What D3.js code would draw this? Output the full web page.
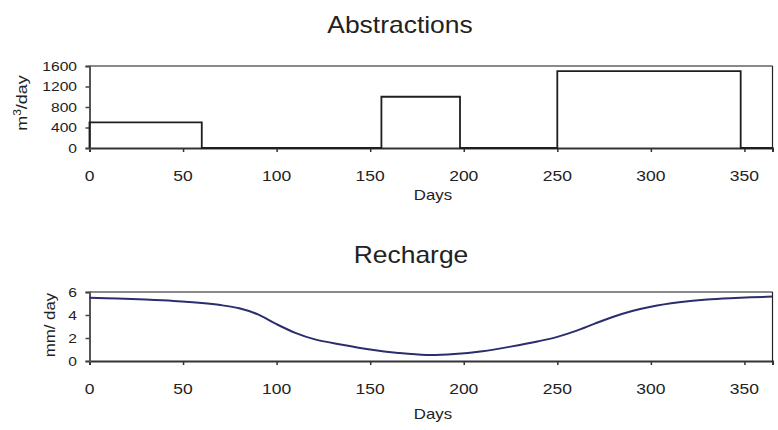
<!DOCTYPE html>
<html>
<head>
<meta charset="utf-8">
<script src="https://cdn.jsdelivr.net/npm/d3@7"></script>
<style>
  html, body { margin: 0; padding: 0; background: #fff; }
  svg text { font-family: "Liberation Sans", Arial, Helvetica, sans-serif; fill: #222; }
</style>
</head>
<body>
<svg id="chart" width="778" height="430"></svg>
<script>
// Pumping periods: start day, end day, abstraction rate (m3/day)
const pumpStart = [0, 156, 250];
const pumpEnd = [60, 198, 348];
const pumpRate = [500, 1000, 1500];

// Recharge through the year (mm/day)
const rechargeDays = [0, 15, 30, 45, 60, 70, 80, 90, 100, 110, 120, 135, 150, 165, 180, 195, 210, 225, 240, 250, 260, 270, 280, 290, 300, 315, 330, 345, 365];
const rechargeValues = [5.5, 5.43, 5.34, 5.22, 5.04, 4.86, 4.58, 4.05, 3.2, 2.45, 1.9, 1.42, 1.0, 0.7, 0.52, 0.6, 0.85, 1.25, 1.72, 2.1, 2.62, 3.25, 3.85, 4.35, 4.72, 5.1, 5.35, 5.48, 5.6];

// Axis ticks
const dayTicks = [0, 50, 100, 150, 200, 250, 300, 350];
const abstractionTicks = [0, 400, 800, 1200, 1600];
const rechargeTicks = [0, 2, 4, 6];

const svg = d3.select("#chart");
const left = 89.5, right = 772.5;

const x = d3.scaleLinear().domain([0, 365]).range([left, right]);

// Text helper: glyphs are drawn slightly wide
function label(g, txt, px, py, size, anchor, sx = 1.22, rot = 0) {
  return g.append("text")
    .attr("transform", `translate(${px},${py}) rotate(${rot}) scale(${sx},1)`)
    .attr("text-anchor", anchor)
    .attr("font-size", size)
    .text(txt);
}

function panel(top, bottom, yDomain, yTicks, title, titleX, titleY) {
  const y = d3.scaleLinear().domain(yDomain).range([bottom, top]);
  const g = svg.append("g");

  // title
  label(g, title, titleX, titleY, 23, "middle", 1.15);

  // frame: grey top edge, thin dark right edge
  g.append("line").attr("x1", left).attr("x2", right).attr("y1", y(yDomain[1])).attr("y2", y(yDomain[1]))
    .attr("stroke", "#8a8a8a").attr("stroke-width", 2);
  g.append("line").attr("x1", right).attr("x2", right).attr("y1", y(yDomain[1])).attr("y2", y(yDomain[0]))
    .attr("stroke", "#222").attr("stroke-width", 1.2);

  // x axis
  const xa = g.append("g").attr("transform", `translate(0,${bottom})`)
    .call(d3.axisBottom(x).tickValues(dayTicks).tickSize(4).tickFormat(""));
  xa.select(".domain").attr("stroke", "#333").attr("stroke-width", 2);
  xa.selectAll(".tick line").attr("stroke", "#333").attr("stroke-width", 1.5);
  dayTicks.forEach(d => label(g, d, x(d), bottom + 33, 14, "middle", 1.25));

  // y axis
  const ya = g.append("g").attr("transform", `translate(${left},0)`)
    .call(d3.axisLeft(y).tickValues(yTicks).tickSize(4).tickFormat(""));
  ya.select(".domain").attr("stroke", "#555").attr("stroke-width", 2);
  ya.selectAll(".tick line").attr("stroke", "#444").attr("stroke-width", 1.5);
  yTicks.forEach(v => label(g, v, 77, y(v) + 4.5, 12, "end", 1.3));

  return { g, y };
}

// ---- Abstractions ----
const p1 = panel(66, 148, [0, 1600], abstractionTicks, "Abstractions", 400, 33);
{
  const pts = [];
  pumpStart.forEach((s, i) => {
    pts.push([s, 0], [s, pumpRate[i]], [pumpEnd[i], pumpRate[i]], [pumpEnd[i], 0]);
  });
  pts.push([365, 0]);
  const line = d3.line().x(d => x(d[0])).y(d => p1.y(d[1]));
  p1.g.append("path").attr("d", line(pts)).attr("fill", "none")
    .attr("stroke", "#1e1e1e").attr("stroke-width", 1.8);
  // y-axis title with superscript
  const t = p1.g.append("text")
    .attr("transform", `translate(27,103) rotate(-90) scale(1.2,1)`)
    .attr("text-anchor", "middle").attr("font-size", 15);
  t.append("tspan").text("m");
  t.append("tspan").attr("font-size", 10).attr("dy", -6).text("3");
  t.append("tspan").attr("dy", 6).text("/day");
  label(p1.g, "Days", (left + right) / 2 + 2, 200, 14, "middle", 1.2);
}

// ---- Recharge ----
const p2 = panel(292, 361, [0, 6], rechargeTicks, "Recharge", 411, 263);
{
  const line = d3.line().x((d, i) => x(rechargeDays[i])).y(d => p2.y(d)).curve(d3.curveCatmullRom.alpha(0.5));
  p2.g.append("path").attr("d", line(rechargeValues)).attr("fill", "none")
    .attr("stroke", "#2c2c6e").attr("stroke-width", 2);
  label(p2.g, "mm/ day", 55, 325, 15, "middle", 1.12, -90);
  label(p2.g, "Days", (left + right) / 2 + 2, 419, 14, "middle", 1.2);
}
</script>
</body>
</html>
